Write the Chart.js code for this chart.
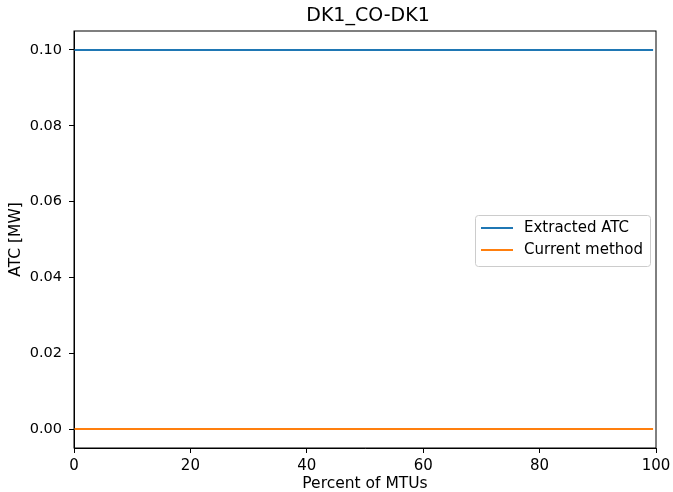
<!DOCTYPE html>
<html>
<head>
<meta charset="utf-8">
<script src="https://cdn.jsdelivr.net/npm/chart.js@4"></script>
<style>
  html, body { margin: 0; padding: 0; background: #fff; }
  #wrap { width: 673px; height: 492px; }
</style>
</head>
<body>
<div id="wrap"><canvas id="myChart"></canvas></div>
<script>
var chartTitle = 'DK1_CO-DK1';
var percentMTUs = [0, 99.5];
var extractedATC = [0.1, 0.1];
var currentMethod = [0, 0];
var seriesNames = ['Extracted ATC', 'Current method'];
var seriesColors = ['#1f77b4', '#ff7f0e'];
var xTicks = [0, 20, 40, 60, 80, 100];
var yTicks = [0.00, 0.02, 0.04, 0.06, 0.08, 0.10];

var font = 'DejaVu Sans';

// frame round the plot, title over the plot, legend inside the plot area (matplotlib style)
var framePlugin = {
    id: 'frame',
    afterDraw: function (chart) {
        var c = chart.ctx, a = chart.chartArea;
        c.save();
        c.strokeStyle = '#000';
        c.lineWidth = 1;
        c.strokeRect(a.left, a.top, a.right - a.left, a.bottom - a.top);

        c.fillStyle = '#000';
        c.textAlign = 'center';
        c.textBaseline = 'middle';
        c.font = '19px "' + font + '"';
        c.fillText(chartTitle, (a.left + a.right) / 2 + 3, 16.5);

        var w = 175, h = 51;
        var x = a.right - 6 - w;
        var y = (a.top + a.bottom) / 2 - h / 2 + 1;
        c.fillStyle = 'rgba(255,255,255,0.8)';
        c.strokeStyle = '#cccccc';
        c.beginPath();
        c.roundRect(x + 0.5, y + 0.5, w, h, 3);
        c.fill();
        c.stroke();
        c.font = '15px "' + font + '"';
        c.textAlign = 'left';
        c.fillStyle = '#000';
        for (var i = 0; i < seriesNames.length; i++) {
            var ly = y + 13 + i * 22;
            c.strokeStyle = seriesColors[i];
            c.lineWidth = 2;
            c.beginPath();
            c.moveTo(x + 6, ly);
            c.lineTo(x + 38, ly);
            c.stroke();
            c.fillText(seriesNames[i], x + 49, ly);
        }
        c.restore();
    }
};

var ctx = document.getElementById('myChart').getContext('2d');
var myChart = new Chart(ctx, {
    type: 'line',
    data: {
        datasets: [{
            label: seriesNames[0],
            data: percentMTUs.map(function (x, i) { return { x: x, y: extractedATC[i] }; }),
            borderColor: seriesColors[0],
            borderWidth: 2,
            pointRadius: 0,
            fill: false
        },
        {
            label: seriesNames[1],
            data: percentMTUs.map(function (x, i) { return { x: x, y: currentMethod[i] }; }),
            borderColor: seriesColors[1],
            borderWidth: 2,
            pointRadius: 0,
            fill: false
        }]
    },
    options: {
        responsive: true,
        maintainAspectRatio: false,
        animation: false,
        layout: { padding: { left: 0, right: 17, top: 31, bottom: 0 } },
        scales: {
            x: {
                type: 'linear',
                min: 0,
                max: 100,
                afterBuildTicks: function (s) { s.ticks = xTicks.map(function (v) { return { value: v }; }); },
                afterFit: function (s) { s.height = 44; s.paddingLeft = 0; s.paddingRight = 0; },
                grid: { drawOnChartArea: false, drawTicks: true, tickLength: 5, color: '#000' },
                border: { display: true, color: '#000' },
                ticks: { color: '#000', padding: 4, maxRotation: 0, font: { family: font, size: 15 } },
                title: { display: true, text: 'Percent of MTUs', color: '#000', padding: { top: 0, bottom: 0 }, font: { family: font, size: 15.5, lineHeight: 1 } }
            },
            y: {
                type: 'linear',
                min: -0.005,
                max: 0.105,
                afterBuildTicks: function (s) { s.ticks = yTicks.map(function (v) { return { value: v }; }); },
                afterFit: function (s) { s.width = 74; s.paddingTop = 0; s.paddingBottom = 0; },
                grid: { drawOnChartArea: false, drawTicks: true, tickLength: 5, color: '#000' },
                border: { display: true, color: '#000' },
                ticks: {
                    color: '#000', padding: 7, font: { family: font, size: 14.5 },
                    callback: function (v) { return Number(v).toFixed(2); }
                },
                title: { display: true, text: 'ATC [MW]', color: '#000', padding: { top: 8, bottom: 0 }, font: { family: font, size: 15.5, lineHeight: 1 } }
            }
        },
        plugins: {
            legend: { display: false },
            tooltip: { enabled: false },
            title: { display: false }
        }
    },
    plugins: [framePlugin]
});
</script>
</body>
</html>
